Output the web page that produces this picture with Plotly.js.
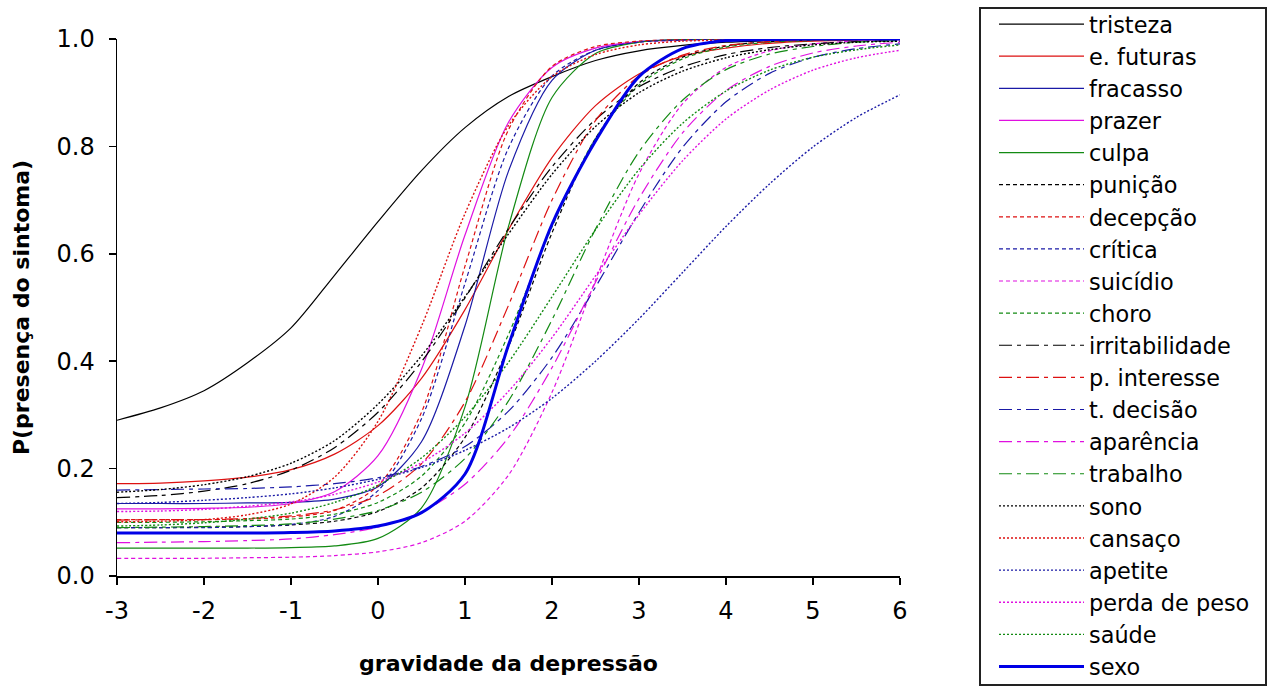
<!DOCTYPE html>
<html>
<head>
<meta charset="utf-8">
<script src="https://cdn.plot.ly/plotly-3.0.1.min.js"></script>
<style>html,body{margin:0;padding:0;background:#fff;}#chart{width:1274px;height:687px;}</style>
</head>
<body>
<div id="chart"></div>
<script>
// theta grid (gravidade da depressão)
const xs = [-3,-2.5,-2,-1.5,-1,-0.5,0,0.5,1,1.5,2,2.5,3,3.5,4,4.5,5,5.5,6];

// P(presença do sintoma) per item
const tristeza       = [0.29,0.313,0.345,0.397,0.462,0.56,0.66,0.755,0.835,0.893,0.93,0.96,0.978,0.988,0.994,0.997,0.999,1.0,1.0];
const eFuturas       = [0.172,0.173,0.177,0.184,0.198,0.227,0.28,0.368,0.496,0.645,0.779,0.876,0.935,0.968,0.983,0.992,0.996,0.998,0.999];
const fracasso       = [0.135,0.135,0.135,0.136,0.137,0.143,0.166,0.25,0.466,0.754,0.923,0.979,0.995,0.999,1.0,1.0,1.0,1.0,1.0];
const prazer         = [0.125,0.125,0.126,0.128,0.135,0.157,0.224,0.385,0.635,0.845,0.947,0.983,0.995,0.998,1.0,1.0,1.0,1.0,1.0];
const culpa          = [0.052,0.052,0.052,0.052,0.053,0.056,0.07,0.127,0.315,0.651,0.891,0.973,0.994,0.999,1.0,1.0,1.0,1.0,1.0];
const punicao        = [0.09,0.09,0.091,0.092,0.095,0.102,0.12,0.164,0.258,0.427,0.639,0.815,0.918,0.966,0.987,0.995,0.998,0.999,1.0];
const decepcao       = [0.105,0.105,0.105,0.106,0.11,0.122,0.168,0.305,0.577,0.831,0.949,0.986,0.996,0.999,1.0,1.0,1.0,1.0,1.0];
const critica        = [0.09,0.09,0.09,0.092,0.096,0.111,0.159,0.293,0.545,0.797,0.931,0.979,0.994,0.998,1.0,1.0,1.0,1.0,1.0];
const suicidio       = [0.033,0.033,0.033,0.034,0.035,0.038,0.045,0.062,0.102,0.188,0.342,0.551,0.749,0.879,0.947,0.978,0.991,0.996,0.998];
const choro          = [0.1,0.1,0.101,0.103,0.106,0.115,0.137,0.186,0.285,0.45,0.65,0.815,0.914,0.963,0.985,0.994,0.997,0.999,1.0];
const irritabilidade = [0.146,0.15,0.158,0.172,0.197,0.239,0.305,0.399,0.518,0.647,0.762,0.85,0.911,0.948,0.971,0.984,0.991,0.995,0.997];
const pInteresse     = [0.104,0.105,0.105,0.107,0.112,0.123,0.15,0.209,0.324,0.504,0.7,0.848,0.931,0.97,0.988,0.995,0.998,0.999,1.0];
const tDecisao       = [0.16,0.161,0.162,0.163,0.166,0.172,0.183,0.204,0.241,0.307,0.407,0.538,0.677,0.798,0.883,0.936,0.966,0.982,0.991];
const aparencia      = [0.062,0.063,0.064,0.066,0.069,0.077,0.091,0.119,0.171,0.258,0.388,0.547,0.703,0.825,0.904,0.949,0.974,0.987,0.994];
const trabalho       = [0.09,0.091,0.092,0.094,0.097,0.106,0.122,0.156,0.219,0.326,0.477,0.646,0.79,0.886,0.943,0.972,0.986,0.994,0.997];
const sono           = [0.156,0.161,0.17,0.185,0.21,0.252,0.32,0.41,0.52,0.637,0.748,0.837,0.9,0.94,0.965,0.98,0.989,0.994,0.996];
const cansaco        = [0.101,0.102,0.105,0.114,0.134,0.184,0.288,0.465,0.675,0.839,0.93,0.971,0.989,0.996,0.998,0.999,1.0,1.0,1.0];
const apetite        = [0.135,0.137,0.141,0.146,0.153,0.164,0.18,0.202,0.234,0.276,0.331,0.40,0.479,0.565,0.651,0.73,0.799,0.854,0.896];
const perdaPeso      = [0.12,0.121,0.124,0.13,0.138,0.152,0.175,0.211,0.266,0.344,0.444,0.559,0.673,0.773,0.851,0.905,0.942,0.965,0.979];
const saude          = [0.093,0.095,0.099,0.106,0.117,0.137,0.169,0.22,0.296,0.398,0.52,0.645,0.757,0.843,0.903,0.942,0.966,0.98,0.989];
const sexo           = [0.08,0.08,0.08,0.08,0.081,0.084,0.093,0.118,0.19,0.43,0.655,0.81,0.93,0.982,0.997,0.999,1.0,1.0,1.0];

const itemNames = ['tristeza','e. futuras','fracasso','prazer','culpa','punição','decepção','crítica','suicídio','choro',
  'irritabilidade','p. interesse','t. decisão','aparência','trabalho','sono','cansaço','apetite','perda de peso','saúde','sexo'];
const itemValues = [tristeza,eFuturas,fracasso,prazer,culpa,punicao,decepcao,critica,suicidio,choro,
  irritabilidade,pInteresse,tDecisao,aparencia,trabalho,sono,cansaco,apetite,perdaPeso,saude,sexo];

const xTickVals = [-3,-2,-1,0,1,2,3,4,5,6];
const xTickText = ['-3','-2','-1','0','1','2','3','4','5','6'];
const yTickVals = [0,0.2,0.4,0.6,0.8,1.0];
const yTickText = ['0.0','0.2','0.4','0.6','0.8','1.0'];

// styles
const BLACK='#000000', RED='#dd1111', BLUE='#1a1aa6', MAG='#e010e0', GREEN='#138a13', SEXO='#0000e6';
const palette = [BLACK, RED, BLUE, MAG, GREEN];
const dashSets = ['solid', '4px,3px', '13px,5px,4px,5px', '2px,2px'];
const widthSets = [1.2, 1.2, 1.2, 1.4];

const traces = itemValues.map((vals, i) => {
  const isSexo = i === 20;
  const g = Math.floor(i / 5);
  const color = isSexo ? SEXO : palette[i % 5];
  const dash = isSexo ? 'solid' : dashSets[g];
  return {
    type: 'scatter', mode: 'lines', name: itemNames[i],
    x: xs, y: vals,
    line: {color: color, width: isSexo ? 3 : widthSets[g], dash: dash, shape: 'spline', smoothing: 0.8},
    hoverinfo: 'skip'
  };
});

const L = 117, R = 374, T = 39, B = 111, W = 1274, H = 687;
const pw = W - L - R, ph = H - T - B;
const px2x = p => (p - L) / pw;
const px2y = p => (H - B - p) / ph;

const layout = {
  width: W, height: H,
  margin: {l: L, r: R, t: T, b: B, pad: 0, autoexpand: false},
  paper_bgcolor: '#ffffff', plot_bgcolor: '#ffffff',
  font: {family: 'DejaVu Sans', size: 22, color: '#000'},
  showlegend: true,
  xaxis: {
    range: [-3, 6], tickvals: xTickVals, ticktext: xTickText,
    showgrid: false, zeroline: false, showline: true, linecolor: '#000', linewidth: 1.5,
    ticks: 'outside', ticklen: 7, tickwidth: 1.5, tickcolor: '#000',
    ticklabelstandoff: 6,
    tickfont: {size: 24, family: 'DejaVu Sans'},
    title: {text: '<b>gravidade da depressão</b>', font: {size: 22, family: 'DejaVu Sans'}, standoff: 31},
    fixedrange: true
  },
  yaxis: {
    range: [0, 1], tickvals: yTickVals, ticktext: yTickText,
    showgrid: false, zeroline: false, showline: true, linecolor: '#000', linewidth: 1.5,
    ticks: 'outside', ticklen: 7, tickwidth: 1.5, tickcolor: '#000',
    ticklabelstandoff: 9,
    tickfont: {size: 24, family: 'DejaVu Sans'},
    title: {text: '<b>P(presença do sintoma)</b>', font: {size: 22, family: 'DejaVu Sans'}, standoff: 21},
    fixedrange: true
  },
  legend: {
    x: px2x(994), y: px2y(3), xanchor: 'left', yanchor: 'top',
    font: {size: 22.4, family: 'DejaVu Sans'},
    bgcolor: 'rgba(0,0,0,0)', borderwidth: 0, maxheight: 700,
    itemwidth: 85, traceorder: 'normal', tracegroupgap: 0
  },
  shapes: [{
    type: 'rect', xref: 'paper', yref: 'paper',
    x0: px2x(980), x1: px2x(1266), y0: px2y(685), y1: px2y(8),
    line: {color: '#222', width: 2}, fillcolor: 'rgba(0,0,0,0)', layer: 'below'
  }]
};

Plotly.newPlot('chart', traces, layout, {staticPlot: true, displayModeBar: false});
</script>
</body>
</html>
